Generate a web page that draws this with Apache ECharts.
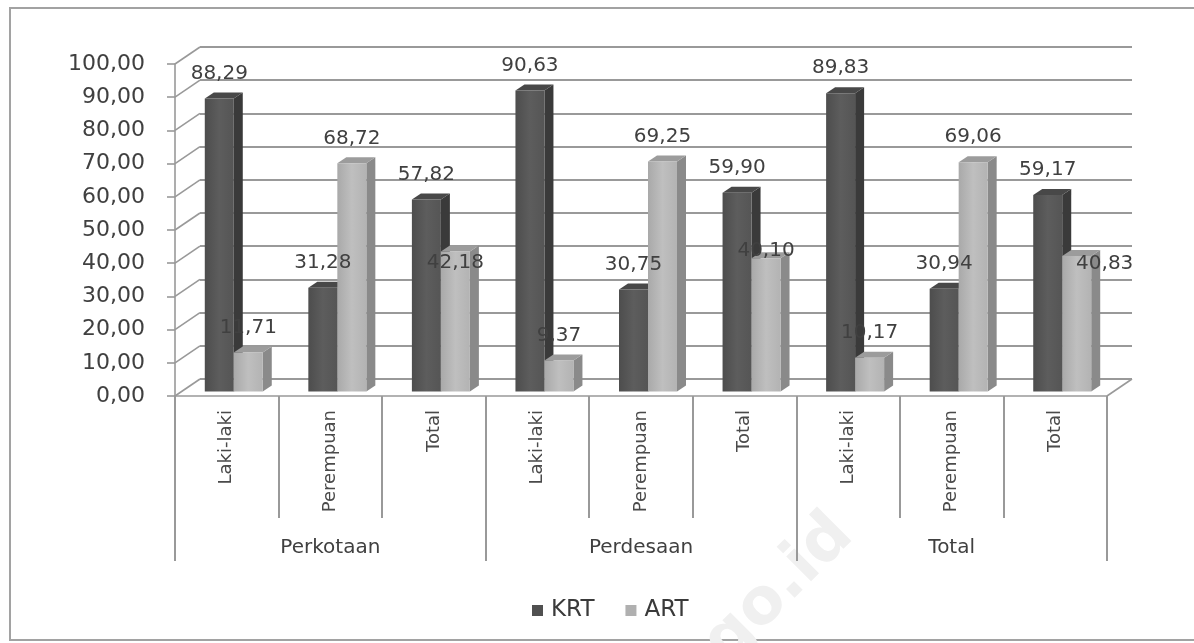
<!DOCTYPE html>
<html>
<head>
<meta charset="utf-8">
<script src="https://cdn.jsdelivr.net/npm/echarts@6/dist/echarts.min.js"></script>
<style>
  html, body { margin: 0; padding: 0; background: #ffffff; }
  #chart { width: 1194px; height: 643px; }
</style>
</head>
<body>
<div id="chart"></div>
<script>
// Sub-categories along the floor, grouped by area
const categories = ['Laki-laki', 'Perempuan', 'Total', 'Laki-laki', 'Perempuan', 'Total', 'Laki-laki', 'Perempuan', 'Total'];
const groups = ['Perkotaan', 'Perdesaan', 'Total'];
const seriesNames = ['KRT', 'ART'];
const krt = [88.29, 31.28, 57.82, 90.63, 30.75, 59.90, 89.83, 30.94, 59.17];
const art = [11.71, 68.72, 42.18, 9.37, 69.25, 40.10, 10.17, 69.06, 40.83];
const yTicks = [0, 10, 20, 30, 40, 50, 60, 70, 80, 90, 100];

// Pseudo-3D layout: back wall, front edge and the plane the bars stand on
const PLOT_W = 932, PLOT_H = 332;
const BACK = { left: 200, top: 47 };
const FRONT_SHIFT = [-25, 17];
const BAR_SHIFT = [-18, 12.5];
const BAR_DEPTH = [9, -6];
const BAR_RATIO = 0.28;
const LABEL_RISE = 25;
// a few value labels sit off their default spot
const artLabelNudge = { 2: [0, 36], 5: [0, 17], 8: [28, 33] };

const GRID_LINE = '#999999';
const TEXT = '#404040';
const FONT = '"DejaVu Sans", Verdana, sans-serif';

const fmt = v => v.toFixed(2).replace('.', ',');

const palette = {
  KRT: { front: ['#4d4d4d', '#5d5d5d', '#555555'], side: '#3a3a3a', top: '#484848', legend: '#505050' },
  ART: { front: ['#a9a9a9', '#bfbfbf', '#b3b3b3'], side: '#8a8a8a', top: '#9c9c9c', legend: '#b0b0b0' }
};

function barGeom(api, slot) {
  const i = api.value(0), v = api.value(1);
  const base = api.coord([i, 0]);
  const top = api.coord([i, v]);
  const bw = api.size([1, 0])[0] * BAR_RATIO;
  return { v, x0: base[0] + slot * bw, bw, yTop: top[1], yBase: base[1] };
}

function barRenderer(name, slot) {
  const c = palette[name];
  return function (params, api) {
    const g = barGeom(api, slot);
    const [dx, dy] = BAR_DEPTH;
    const xr = g.x0 + g.bw;
    return {
      type: 'group',
      children: [
        {
          type: 'polygon',
          shape: { points: [[xr, g.yTop], [xr + dx, g.yTop + dy], [xr + dx, g.yBase + dy], [xr, g.yBase]] },
          style: { fill: c.side }
        },
        {
          type: 'polygon',
          shape: { points: [[g.x0, g.yTop], [g.x0 + dx, g.yTop + dy], [xr + dx, g.yTop + dy], [xr, g.yTop]] },
          style: { fill: c.top }
        },
        {
          type: 'rect',
          shape: { x: g.x0, y: g.yTop, width: g.bw, height: g.yBase - g.yTop },
          style: {
            fill: {
              type: 'linear', x: 0, y: 0, x2: 1, y2: 0,
              colorStops: [
                { offset: 0, color: c.front[0] },
                { offset: 0.5, color: c.front[1] },
                { offset: 1, color: c.front[2] }
              ]
            }
          }
        }
      ]
    };
  };
}

function labelRenderer(slot, nudges) {
  return function (params, api) {
    const g = barGeom(api, slot);
    const n = nudges[params.dataIndex] || [0, 0];
    return {
      type: 'text',
      x: g.x0 + g.bw / 2 + n[0],
      y: g.yTop - LABEL_RISE + n[1],
      style: {
        text: fmt(g.v), fill: TEXT, fontSize: 20, fontFamily: FONT,
        align: 'center', verticalAlign: 'middle'
      }
    };
  };
}

// side wall lines from the front axis back to the wall, plus the floor outline
function wallRenderer(params, api) {
  const v = api.value(0);
  const [fx, fy] = FRONT_SHIFT;
  const p = api.coord([0, v]);
  const children = [{
    type: 'line',
    shape: { x1: p[0], y1: p[1], x2: p[0] + fx, y2: p[1] + fy },
    style: { stroke: GRID_LINE, lineWidth: 1.6 }
  }];
  if (v === 0) {
    const q = api.coord([categories.length, 0]);
    children.push({
      type: 'line',
      shape: { x1: q[0], y1: q[1], x2: q[0] + fx, y2: q[1] + fy },
      style: { stroke: GRID_LINE, lineWidth: 1.6 }
    });
  }
  return { type: 'group', children };
}

const gridBack = { left: BACK.left, top: BACK.top, width: PLOT_W, height: PLOT_H };
const gridFront = { left: BACK.left + FRONT_SHIFT[0], top: BACK.top + FRONT_SHIFT[1], width: PLOT_W, height: PLOT_H };
const gridBars = { left: BACK.left + BAR_SHIFT[0], top: BACK.top + BAR_SHIFT[1], width: PLOT_W, height: PLOT_H };

const option = {
  animation: false,
  backgroundColor: '#ffffff',
  grid: [gridBack, gridFront, gridBars],
  xAxis: [
    {
      type: 'value', gridIndex: 0, min: 0, max: categories.length, show: false
    },
    {
      type: 'category', gridIndex: 1, position: 'bottom', offset: 0, data: categories,
      axisLine: { show: true, lineStyle: { color: GRID_LINE, width: 1.6 } },
      axisTick: { show: true, interval: 0, length: 122, lineStyle: { color: GRID_LINE, width: 2 } },
      axisLabel: { interval: 0, rotate: 90, margin: 14, color: '#4a4a4a', fontSize: 18, fontFamily: FONT },
      splitLine: { show: false }
    },
    {
      type: 'category', gridIndex: 1, position: 'bottom', offset: 0, data: groups,
      axisLine: { show: false },
      axisTick: { show: true, interval: 0, length: 165, lineStyle: { color: GRID_LINE, width: 2 } },
      axisLabel: { interval: 0, margin: 142, color: TEXT, fontSize: 20, fontFamily: FONT },
      splitLine: { show: false }
    },
    {
      type: 'category', gridIndex: 2, data: categories, show: false
    }
  ],
  yAxis: [
    {
      type: 'value', gridIndex: 0, min: 0, max: 100, interval: 10,
      axisLine: { show: false }, axisTick: { show: false }, axisLabel: { show: false },
      splitLine: { show: true, lineStyle: { color: GRID_LINE, width: 1.8 } }
    },
    {
      type: 'value', gridIndex: 1, min: 0, max: 100, interval: 10,
      axisLine: { show: true, lineStyle: { color: GRID_LINE, width: 1.6 } },
      axisTick: { show: true, inside: false, length: 8, lineStyle: { color: GRID_LINE, width: 1.6 } },
      axisLabel: { margin: 30, color: TEXT, fontSize: 22, fontFamily: FONT, formatter: v => fmt(v) },
      splitLine: { show: false }
    },
    {
      type: 'value', gridIndex: 2, min: 0, max: 100, interval: 10,
      axisLine: { show: false }, axisTick: { show: false }, axisLabel: { show: false }, splitLine: { show: false }
    }
  ],
  legend: {
    data: seriesNames.map(n => ({ name: n, icon: 'rect', itemStyle: { color: palette[n].legend } })),
    left: 527, top: 594,
    itemWidth: 11, itemHeight: 11, itemGap: 31,
    textStyle: { color: '#3a3a3a', fontSize: 23, fontFamily: FONT, padding: [0, 0, 0, 3] }
  },
  graphic: [
    {
      type: 'rect', z: 0, silent: true,
      shape: { x: 10, y: 8, width: 1200, height: 632 },
      style: { fill: 'none', stroke: '#a2a2a2', lineWidth: 2 }
    },
    {
      type: 'text', z: 0, silent: true, x: 866, y: 548, rotation: Math.PI / 4,
      style: {
        text: 'bps.go.id', fill: '#f0f0f0', fontSize: 64, fontWeight: 'bold', fontFamily: FONT,
        align: 'right', verticalAlign: 'bottom'
      }
    }
  ],
  series: [
    {
      name: 'wall', type: 'custom', coordinateSystem: 'cartesian2d', xAxisIndex: 0, yAxisIndex: 0,
      silent: true, clip: false, z: 1,
      data: yTicks.map(v => [v]), encode: { y: 0 },
      renderItem: wallRenderer
    },
    {
      name: 'KRT', type: 'custom', coordinateSystem: 'cartesian2d', xAxisIndex: 3, yAxisIndex: 2,
      clip: false, z: 2, itemStyle: { color: palette.KRT.legend },
      data: krt.map((v, i) => [i, v]), encode: { x: 0, y: 1 },
      renderItem: barRenderer('KRT', -1)
    },
    {
      name: 'ART', type: 'custom', coordinateSystem: 'cartesian2d', xAxisIndex: 3, yAxisIndex: 2,
      clip: false, z: 2, itemStyle: { color: palette.ART.legend },
      data: art.map((v, i) => [i, v]), encode: { x: 0, y: 1 },
      renderItem: barRenderer('ART', 0)
    },
    {
      name: 'KRT nilai', type: 'custom', coordinateSystem: 'cartesian2d', xAxisIndex: 3, yAxisIndex: 2,
      clip: false, z: 4, silent: true,
      data: krt.map((v, i) => [i, v]), encode: { x: 0, y: 1 },
      renderItem: labelRenderer(-1, {})
    },
    {
      name: 'ART nilai', type: 'custom', coordinateSystem: 'cartesian2d', xAxisIndex: 3, yAxisIndex: 2,
      clip: false, z: 4, silent: true,
      data: art.map((v, i) => [i, v]), encode: { x: 0, y: 1 },
      renderItem: labelRenderer(0, artLabelNudge)
    }
  ]
};

const chart = echarts.init(document.getElementById('chart'), null, { renderer: 'canvas' });
chart.setOption(option);
</script>
</body>
</html>
